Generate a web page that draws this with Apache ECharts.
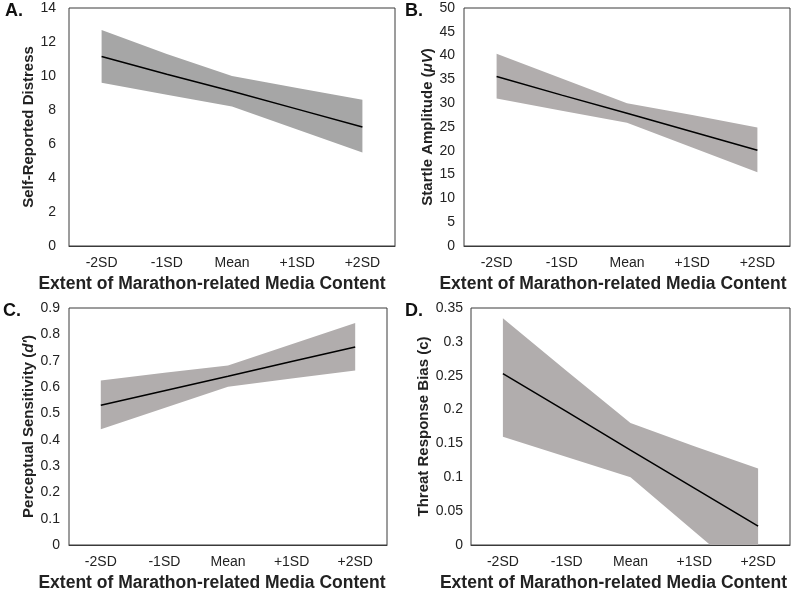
<!DOCTYPE html>
<html>
<head>
<meta charset="utf-8">
<script src="https://cdn.jsdelivr.net/npm/echarts@6/dist/echarts.min.js"></script>
<style>
  html, body { margin: 0; padding: 0; background: #fff; }
  #chart { width: 800px; height: 593px; }
</style>
</head>
<body>
<div id="chart"></div>
<script>
  var categories = ['-2SD', '-1SD', 'Mean', '+1SD', '+2SD']
  var xTitle = 'Extent of Marathon-related Media Content'

  // A. self-reported distress
  var distressFit = [11.15, 10.1, 9.1, 8.05, 7.0]
  var distressLow = [9.6, 8.9, 8.2, 6.85, 5.5]
  var distressHigh = [12.7, 11.3, 10.0, 9.3, 8.6]

  // B. startle amplitude
  var startleFit = [35.6, 31.7, 27.9, 24.0, 20.1]
  var startleLow = [31.0, 28.4, 25.9, 20.7, 15.5]
  var startleHigh = [40.4, 35.2, 30.0, 27.5, 24.9]

  // C. perceptual sensitivity
  var sensFit = [0.531, 0.586, 0.641, 0.697, 0.752]
  var sensLow = [0.44, 0.52, 0.601, 0.632, 0.663]
  var sensHigh = [0.625, 0.654, 0.682, 0.762, 0.843]

  // D. threat response bias
  var biasFit = [0.253, 0.197, 0.14, 0.084, 0.028]
  var biasLow = [0.16, 0.13, 0.1, 0.02, -0.06]
  var biasHigh = [0.335, 0.257, 0.18, 0.146, 0.113]

  var font = '"Liberation Sans", Arial, sans-serif'

  var panels = [
    { letter: 'A.', name: 'Self-Reported Distress', fit: distressFit, low: distressLow, high: distressHigh,
      max: 14, step: 2, fill: '#a6a6a6', grid: { left: 69, top: 8, width: 326, height: 238 }, labelGap: 13, nameGap: 28,
      lx: 5, ly: 2, shift: 40 },
    { letter: 'B.', name: 'Startle Amplitude ({i|μV})', fit: startleFit, low: startleLow, high: startleHigh,
      max: 50, step: 5, fill: '#b1adad', grid: { left: 464, top: 8, width: 326, height: 238 }, labelGap: 9, nameGap: 26,
      lx: 405, ly: 2, shift: 28 },
    { letter: 'C.', name: 'Perceptual Sensitivity ({i|d\'})', fit: sensFit, low: sensLow, high: sensHigh,
      max: 0.9, step: 0.1, fill: '#b1adad', grid: { left: 69, top: 308, width: 318, height: 239 }, labelGap: 9, nameGap: 31,
      lx: 3, ly: 302, shift: 32 },
    { letter: 'D.', name: 'Threat Response Bias (c)', fit: biasFit, low: biasLow, high: biasHigh,
      max: 0.35, step: 0.05, fill: '#b1adad', grid: { left: 471, top: 308, width: 319, height: 239 }, labelGap: 8, nameGap: 36,
      lx: 405, ly: 302, shift: 34 }
  ]

  var grids = [], xAxes = [], yAxes = [], series = [], graphics = []

  panels.forEach(function (p, i) {
    grids.push(Object.assign({ show: true, borderColor: '#3a3a3a', borderWidth: 1, backgroundColor: 'transparent' }, p.grid))
    xAxes.push({
      type: 'category', gridIndex: i, data: categories, boundaryGap: true,
      axisTick: { show: false },
      axisLine: { show: true, lineStyle: { color: '#3a3a3a' } },
      axisLabel: { color: '#222', fontFamily: font, fontSize: 14, margin: 10 },
      name: xTitle, nameLocation: 'middle', nameGap: 29,
      nameTextStyle: { color: '#222', fontFamily: font, fontSize: 17.5, fontWeight: 'bold', padding: [0, p.shift, 0, 0] }
    })
    yAxes.push({
      type: 'value', gridIndex: i, min: 0, max: p.max, interval: p.step,
      axisLine: { show: false }, axisTick: { show: false }, splitLine: { show: false },
      axisLabel: { color: '#222', fontFamily: font, fontSize: 14, margin: p.labelGap },
      name: p.name, nameLocation: 'middle', nameGap: p.nameGap,
      nameTextStyle: {
        color: '#222', fontFamily: font, fontSize: 15, fontWeight: 'bold',
        rich: { i: { fontStyle: 'italic', fontWeight: 'bold', fontFamily: font, fontSize: 15, color: '#222' } }
      }
    })
    var diff = p.high.map(function (v, k) { return v - p.low[k] })
    series.push({
      type: 'line', xAxisIndex: i, yAxisIndex: i, data: p.low, stack: 'ci' + i, stackStrategy: 'all',
      symbol: 'none', lineStyle: { width: 0 }, silent: true
    })
    series.push({
      type: 'line', xAxisIndex: i, yAxisIndex: i, data: diff, stack: 'ci' + i, stackStrategy: 'all',
      symbol: 'none', lineStyle: { width: 0 }, areaStyle: { color: p.fill, opacity: 1 }, silent: true
    })
    series.push({
      type: 'line', xAxisIndex: i, yAxisIndex: i, data: p.fit, symbol: 'none',
      lineStyle: { color: '#000', width: 1.5 }, z: 5
    })
    graphics.push({
      type: 'text', left: p.lx, top: p.ly,
      style: { text: p.letter, font: 'bold 18px ' + font, fill: '#111' }
    })
  })

  var chart = echarts.init(document.getElementById('chart'))
  chart.setOption({
    animation: false,
    grid: grids,
    xAxis: xAxes,
    yAxis: yAxes,
    series: series,
    graphic: graphics
  })
</script>
</body>
</html>
